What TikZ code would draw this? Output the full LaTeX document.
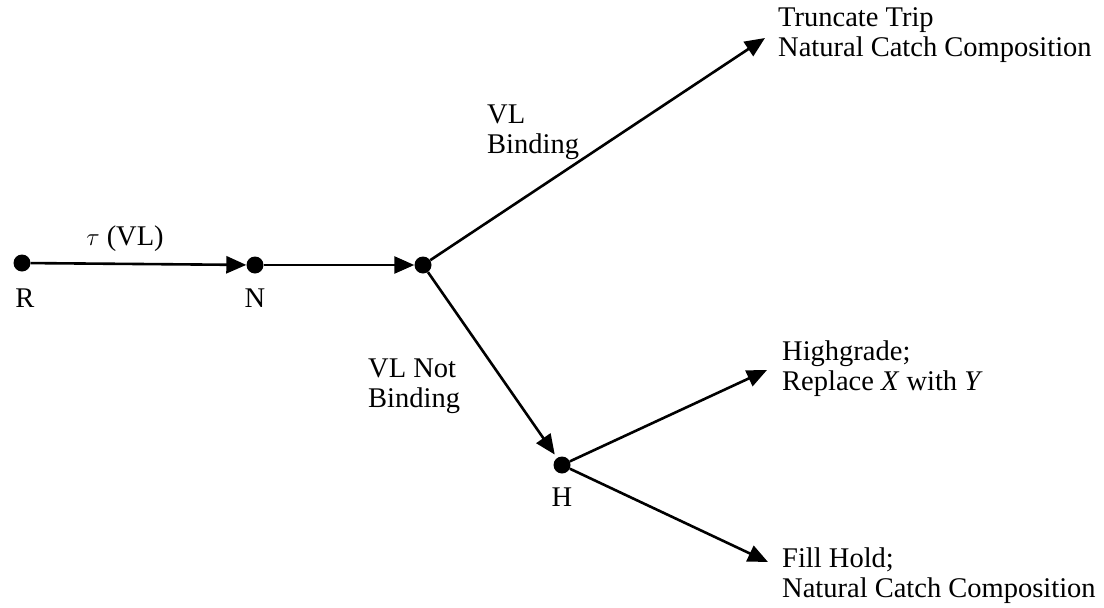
\documentclass[tikz,border=0pt]{standalone}
\usepackage{fontspec}
\setmainfont{Liberation Serif}
\usetikzlibrary{arrows.meta}
\begin{document}
\begin{tikzpicture}[x=1pt,y=-1pt,
  dot/.style={circle,fill=black,inner sep=0pt,minimum size=17pt},
  lbl/.style={font=\fontsize{28.5}{30}\selectfont,inner sep=0pt,anchor=base},
  txt/.style={font=\fontsize{28.5}{30}\selectfont,inner sep=0pt,align=left,anchor=base west},
  arr/.style={line width=2.6pt,-{Triangle[length=20pt,width=17pt]}}]
\useasboundingbox (0,0) rectangle (1104,608);

% decision points
\node[dot] (R) at (22,263) {};
\node[dot] (N) at (255,265) {};
\node[dot] (B) at (423,265) {};
\node[dot] (H) at (562,465) {};

% point labels
\node[lbl] at (25,307) {R};
\node[lbl] at (255,307) {N};
\node[lbl] at (562,506) {H};
\node[lbl] at (125,245) {$\tau$ (VL)};

% outcome texts (positioned by the baseline of their last line)
\node[txt] (T) at (778,56) {Truncate Trip\\Natural Catch Composition};
\node[txt] (G) at (782,390) {Highgrade;\\Replace \textit{X} with \textit{Y}};
\node[txt] (F) at (782,597) {Fill Hold;\\Natural Catch Composition};

% branch labels
\node[txt] at (487,153) {VL\\Binding};
\node[txt] at (368,407) {VL Not\\Binding};

% arrow ends beside the outcome texts
\coordinate (tT) at (765,38);
\coordinate (tG) at (767,370);
\coordinate (tF) at (768,562);

\draw[arr] (R) -- (N);
\draw[arr] (N) -- (B);
\draw[arr] (B) -- (tT);
\draw[arr,shorten >=4pt] (B) -- (H);
\draw[arr] (H) -- (tG);
\draw[arr] (H) -- (tF);
\end{tikzpicture}
\end{document}
